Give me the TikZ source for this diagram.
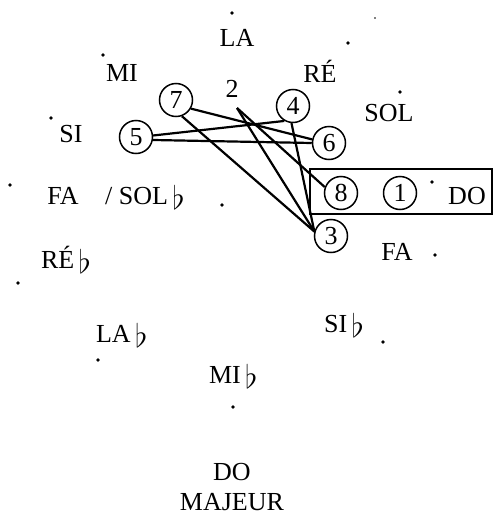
\documentclass[tikz,border=0pt]{standalone}
\usepackage{fontspec}
\setmainfont{Liberation Serif}
\usetikzlibrary{positioning}

\newcommand{\fl}{\,\raisebox{-5pt}{\scalebox{1.3}{$\flat$}}}

\begin{document}
\begin{tikzpicture}[x=1pt,y=-1pt,line width=2.2pt,
  every node/.append style={font=\fontsize{26}{28}\selectfont}]
  \tikzstyle{pc} = [circle,draw,line width=1.5pt,minimum size=33pt,inner sep=0pt]
  \tikzstyle{note} = [anchor=base,inner sep=0pt]
  \tikzstyle{pt} = [circle,fill=black,inner sep=0pt,minimum size=3.6pt]
  \useasboundingbox (0,0) rectangle (494,525);
  % tonalites
  \node (la) [note] at (237,46) {LA};
  \node (mi) [note] at (122,81) {MI};
  \node (re) [note] at (320,82) {RÉ};
  \node (sol) [note] at (389,121) {SOL};
  \node (si) [note] at (71,142) {SI};
  \node (fa) [note] at (63,204) {FA};
  \node (solb) [note,anchor=base west] at (104,204) {/ SOL\fl};
  \node (fa2) [note] at (397,260) {FA};
  \node (reb) [note,anchor=base west] at (40,268) {RÉ\fl};
  \node (lab) [note,anchor=base west] at (95,342) {LA\fl};
  \node (sib) [note,anchor=base west] at (323,332) {SI\fl};
  \node (mib) [note,anchor=base west] at (208,383) {MI\fl};
  \node (do) [note] at (467,204) {DO};
  \node (dom) [note] at (232,480) {DO};
  \node (maj) [note] at (232,510) {MAJEUR};
  % points
  \node (p1) [pt] at (232,13) {};
  \node (p2) [pt] at (103,55) {};
  \node (p3) [pt] at (348,43) {};
  \node (p4) [pt,minimum size=1.6pt] at (375,18) {};
  \node (p5) [pt] at (400,92) {};
  \node (p6) [pt] at (51,118) {};
  \node (p7) [pt] at (10,185) {};
  \node (p8) [pt] at (222,205) {};
  \node (p9) [pt] at (435,255) {};
  \node (p10) [pt] at (18,283) {};
  \node (p11) [pt] at (98,360) {};
  \node (p12) [pt] at (383,342) {};
  \node (p13) [pt] at (233,407) {};
  \node (p14) [pt] at (432,182) {};
  % accords
  \node (n1) [pc] at (400,193) {1};
  \node (n3) [pc] at (331,236) {3};
  \node (n4) [pc] at (293,106) {4};
  \node (n5) [pc] at (136,137) {5};
  \node (n6) [pc] at (329,143) {6};
  \node (n7) [pc] at (176,100) {7};
  \node (n8) [pc] at (341,193) {8};
  \node (two) [note] at (232,97) {2};
  \coordinate (c2) at (237,108);
  \node (frame) [draw,line width=1.5pt,minimum width=182pt,minimum height=45pt,inner sep=0pt] at (401,191.5) {};
  \draw (n5.-10) -- (n6.180);
  \draw (n5.5) -- (n4.-120);
  \draw (n7.-30) -- (n6.168);
  \draw (n7.-70) -- (n3.165);
  \draw (n4.-95) -- (n3.165);
  \draw (c2) -- (n3.165);
  \draw (c2) -- (n8.160);
\end{tikzpicture}
\end{document}
